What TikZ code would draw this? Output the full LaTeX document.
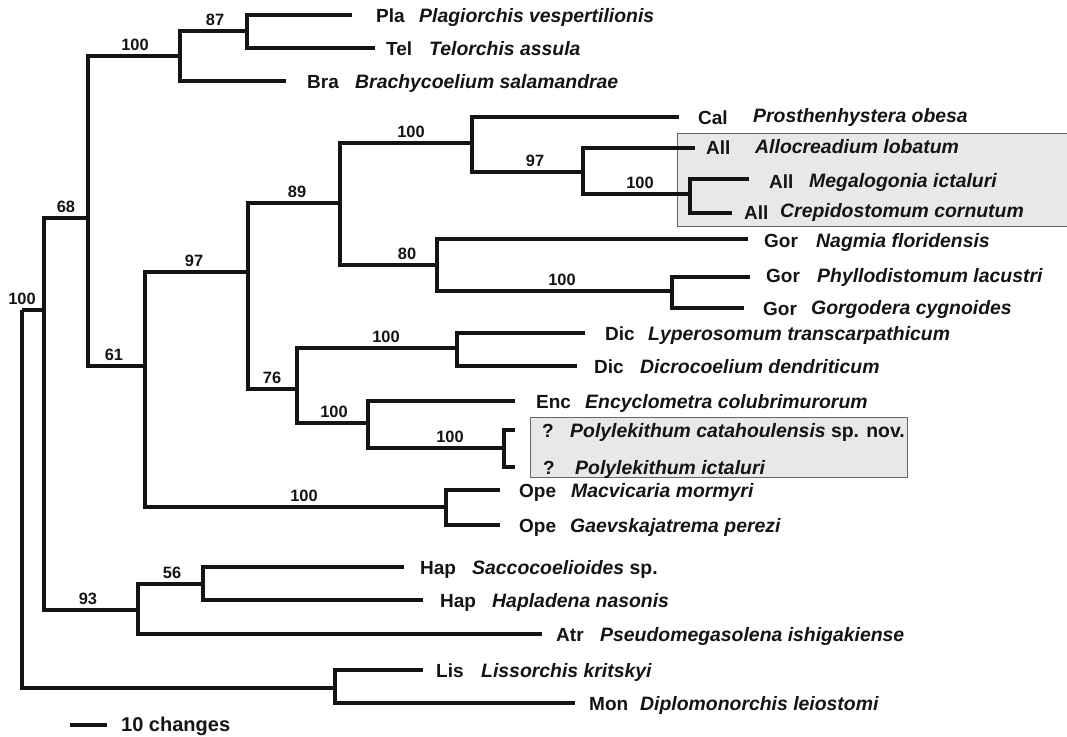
\documentclass[tikz,border=0pt]{standalone}
\usepackage{fontspec}
\setmainfont{Liberation Sans}
\begin{document}
\begin{tikzpicture}[x=1pt,y=-1pt,
  br/.style={line width=3.3pt, line join=miter, black!92},
  lab/.style={font=\fontsize{19}{19}\selectfont\bfseries, anchor=base west, inner sep=0pt, black!92},
  spn/.style={font=\fontsize{19.4}{19}\selectfont\bfseries\itshape, anchor=base west, inner sep=0pt, black!92},
  bsv/.style={font=\fontsize{16.4}{16}\selectfont\bfseries, anchor=base, inner sep=0pt, black!92},
  hbox/.style={fill=black!9, draw=black!60, line width=1pt}]
\useasboundingbox (0,0) rectangle (1067,736);

% highlight boxes
\draw[hbox] (1075,133) -- (677,133) -- (677,226) -- (1075,226);
\draw[hbox] (530,417) rectangle (907,477);

% internal nodes
\coordinate (R) at (22,310);
\coordinate (A) at (44,310);
\coordinate (B) at (88,218);
\coordinate (C) at (180,56);
\coordinate (E) at (247,31);
\coordinate (D) at (145,366);
\coordinate (F) at (248,272);
\coordinate (G) at (340,203);
\coordinate (I) at (472,143);
\coordinate (L) at (583,172);
\coordinate (M) at (690,194);
\coordinate (J) at (437,265);
\coordinate (N) at (672,291);
\coordinate (K) at (297,389);
\coordinate (P) at (457,348);
\coordinate (Q) at (368,423);
\coordinate (S) at (504,448);
\coordinate (O) at (446,507);
\coordinate (H) at (138,610);
\coordinate (T) at (203,584);
\coordinate (U) at (335,688);

% tips
\coordinate (t1) at (352,15);
\coordinate (t2) at (375,48);
\coordinate (t3) at (286,81);
\coordinate (t4) at (679,117);
\coordinate (t5) at (695,148);
\coordinate (t6) at (749,179);
\coordinate (t7) at (732,213);
\coordinate (t8) at (748,239);
\coordinate (t9) at (750,277);
\coordinate (t10) at (744,308);
\coordinate (t11) at (585,333);
\coordinate (t12) at (577,366);
\coordinate (t13) at (515,401);
\coordinate (t14) at (515,430);
\coordinate (t15) at (515,467);
\coordinate (t16) at (500,490);
\coordinate (t17) at (500,525);
\coordinate (t18) at (404,567);
\coordinate (t19) at (423,600);
\coordinate (t20) at (542,634);
\coordinate (t21) at (423,670);
\coordinate (t22) at (575,703);

\foreach \p/\c in {R/A,R/U,A/B,A/H,B/C,B/D,C/E,C/t3,E/t1,E/t2,D/F,D/O,F/G,F/K,
  G/I,G/J,I/t4,I/L,L/t5,L/M,M/t6,M/t7,J/t8,J/N,N/t9,N/t10,K/P,K/Q,P/t11,P/t12,
  Q/t13,Q/S,S/t14,S/t15,O/t16,O/t17,H/T,H/t20,T/t18,T/t19,U/t21,U/t22}
  \draw[br] (\p) |- (\c);

% support values
\node[bsv] (v1) at (22,304) {100};
\node[bsv] (v2) at (66,212) {68};
\node[bsv] (v3) at (135,50) {100};
\node[bsv] (v4) at (215,25) {87};
\node[bsv] (v5) at (114,360) {61};
\node[bsv] (v6) at (194,266) {97};
\node[bsv] (v7) at (304,501) {100};
\node[bsv] (v8) at (297,197) {89};
\node[bsv] (v9) at (272,383) {76};
\node[bsv] (v10) at (411,137) {100};
\node[bsv] (v11) at (407,259) {80};
\node[bsv] (v12) at (535,166) {97};
\node[bsv] (v13) at (640,188) {100};
\node[bsv] (v14) at (562,285) {100};
\node[bsv] (v15) at (386,342) {100};
\node[bsv] (v16) at (334,417) {100};
\node[bsv] (v17) at (450,442) {100};
\node[bsv] (v18) at (88,604) {93};
\node[bsv] (v19) at (172,578) {56};

% taxa labels
\node[lab] (a1) at (376,22) {Pla};   \node[spn] (s1) at (419,22) {Plagiorchis vespertilionis};
\node[lab] (a2) at (386,55) {Tel};   \node[spn] (s2) at (429,55) {Telorchis assula};
\node[lab] (a3) at (307,88) {Bra};   \node[spn] (s3) at (355,88) {Brachycoelium salamandrae};
\node[lab] (a4) at (698,124) {Cal};  \node[spn] (s4) at (753,122) {Prosthenhystera obesa};
\node[lab] (a5) at (706,154) {All};  \node[spn] (s5) at (755,153) {Allocreadium lobatum};
\node[lab] (a6) at (769,188) {All};  \node[spn] (s6) at (809,187) {Megalogonia ictaluri};
\node[lab] (a7) at (744,219) {All};  \node[spn] (s7) at (780,217) {Crepidostomum cornutum};
\node[lab] (a8) at (764,247) {Gor};  \node[spn] (s8) at (816,247) {Nagmia floridensis};
\node[lab] (a9) at (766,282) {Gor};  \node[spn] (s9) at (817,282) {Phyllodistomum lacustri};
\node[lab] (a10) at (763,315) {Gor}; \node[spn] (s10) at (811,314) {Gorgodera cygnoides};
\node[lab] (a11) at (605,340) {Dic}; \node[spn] (s11) at (648,340) {Lyperosomum transcarpathicum};
\node[lab] (a12) at (594,373) {Dic}; \node[spn] (s12) at (640,373) {Dicrocoelium dendriticum};
\node[lab] (a13) at (536,408) {Enc}; \node[spn] (s13) at (585,408) {Encyclometra colubrimurorum};
\node[lab] (a14) at (542,437) {?};   \node[spn] (s14) at (570,437) {Polylekithum catahoulensis \upshape sp. nov.};
\node[lab] (a15) at (543,474) {?};   \node[spn] (s15) at (575,474) {Polylekithum ictaluri};
\node[lab] (a16) at (519,497) {Ope}; \node[spn] (s16) at (571,497) {Macvicaria mormyri};
\node[lab] (a17) at (519,532) {Ope}; \node[spn] (s17) at (570,532) {Gaevskajatrema perezi};
\node[lab] (a18) at (420,574) {Hap}; \node[spn] (s18) at (472,574) {Saccocoelioides \upshape sp.};
\node[lab] (a19) at (440,607) {Hap}; \node[spn] (s19) at (492,607) {Hapladena nasonis};
\node[lab] (a20) at (556,641) {Atr}; \node[spn] (s20) at (600,641) {Pseudomegasolena ishigakiense};
\node[lab] (a21) at (436,677) {Lis}; \node[spn] (s21) at (481,677) {Lissorchis kritskyi};
\node[lab] (a22) at (589,710) {Mon}; \node[spn] (s22) at (640,710) {Diplomonorchis leiostomi};

% scale bar
\coordinate (sb1) at (70,725);
\coordinate (sb2) at (107,725);
\draw[br] (sb1) -- (sb2);
\node[font=\fontsize{20}{20}\selectfont\bfseries, anchor=base west, inner sep=0pt, black!92] (sbl) at (121,731) {10 changes};
\end{tikzpicture}
\end{document}
